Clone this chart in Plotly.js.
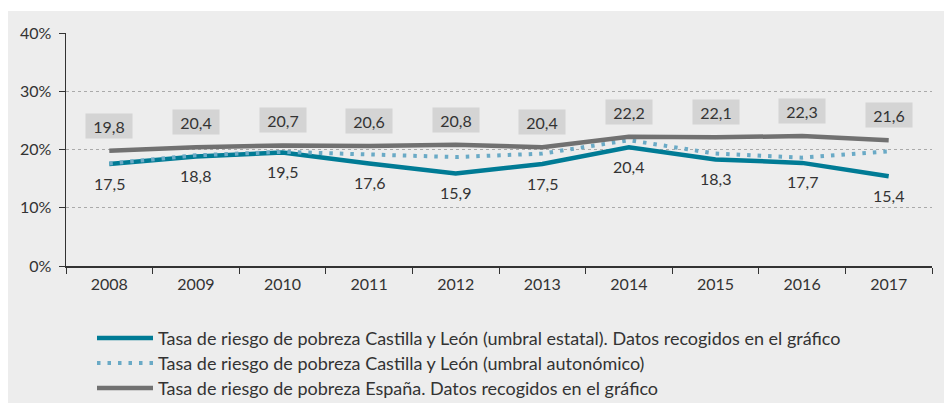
<!DOCTYPE html>
<html><head><meta charset="utf-8">
<script src="https://cdn.plot.ly/plotly-3.0.1.min.js"></script>
<style>html,body{margin:0;padding:0;background:#fff;}#chart{position:absolute;left:8px;top:11px;width:936px;height:392px;}#err{position:absolute;left:0;top:0;color:red;font:12px sans-serif;z-index:10}</style>
</head><body><div id="chart"></div><div id="err"></div>
<script>
window.onerror = function(m){document.getElementById('err').textContent += m + ' | ';};
const years = ['2008','2009','2010','2011','2012','2013','2014','2015','2016','2017'];
const cylEstatal = [17.5,18.8,19.5,17.6,15.9,17.5,20.4,18.3,17.7,15.4];
const cylAutonomico = [17.6,19.0,19.6,19.2,18.7,19.3,21.6,19.3,18.6,19.7];
const espana = [19.8,20.4,20.7,20.6,20.8,20.4,22.2,22.1,22.3,21.6];
const yTicks = [0,10,20,30,40];
const yTickText = ['0%','10%','20%','30%','40%'];
const names = [
  'Tasa de riesgo de pobreza Castilla y León (umbral estatal). Datos recogidos en el gráfico',
  'Tasa de riesgo de pobreza Castilla y León (umbral autonómico)',
  'Tasa de riesgo de pobreza España. Datos recogidos en el gráfico'
];
const colors = ['#007b95', '#6aaac6', '#717171'];
const dashes = ['solid', '3.5px,7px', 'solid'];
const widths = [4.5, 4, 4.5];
const fmt = v => v.toFixed(1).replace('.', ',');
const FONT = 'Lato';

try {
const series = [cylEstatal, cylAutonomico, espana];
const traces = series.map((s, k) => ({
  x: years, y: s, name: names[k], mode: 'lines', type: 'scatter',
  line: {color: colors[k], width: widths[k], dash: dashes[k]}, hoverinfo: 'skip', showlegend: false
}));

const annotations = [];
years.forEach((yr, i) => {
  annotations.push({xref: 'x', yref: 'y', x: i, y: espana[i], text: fmt(espana[i]), showarrow: false, yshift: 25,
    bgcolor: '#d4d4d4', width: 40, height: 18, borderpad: 3,
    font: {family: FONT, size: 16, color: '#333'}});
  annotations.push({xref: 'x', yref: 'y', x: i, y: cylEstatal[i], text: fmt(cylEstatal[i]), showarrow: false, yshift: -19,
    font: {family: FONT, size: 16, color: '#333'}});
});

// custom legend (longer line samples, as in the reference)
const shapes = [];
const plotW = 866, plotH = 233;
const px = v => (v - 66) / plotW;      // page x -> paper x
const py = v => (266 - v) / plotH;     // page y -> paper y
const rowsY = [338, 363, 388];
names.forEach((n, k) => {
  shapes.push({type: 'line', xref: 'paper', yref: 'paper', x0: px(97), x1: px(153), y0: py(rowsY[k]), y1: py(rowsY[k]),
    line: {color: colors[k], width: widths[k], dash: dashes[k]}});
  annotations.push({xref: 'paper', yref: 'paper', x: px(156), y: py(rowsY[k]), xanchor: 'left', yanchor: 'middle',
    text: n, showarrow: false, font: {family: FONT, size: 18, color: '#333'}});
});

const layout = {
  width: 936, height: 392,
  margin: {l: 58, r: 12, t: 22, b: 137},
  paper_bgcolor: '#ededed', plot_bgcolor: '#ededed',
  font: {family: FONT, color: '#333'},
  showlegend: false,
  xaxis: {type: 'category', range: [-0.5, 9.5], tickson: 'boundaries', ticks: 'outside', ticklen: 6,
    tickcolor: '#333', showline: true, linecolor: '#333', linewidth: 1.5, showgrid: false,
    ticklabelstandoff: 3,
    tickfont: {family: FONT, size: 16, color: '#333'}, fixedrange: true},
  yaxis: {range: [0, 40], tickvals: yTicks, ticktext: yTickText, ticks: 'outside', ticklen: 6,
    tickcolor: '#333', showline: true, linecolor: '#333', linewidth: 1.5,
    ticklabelstandoff: 4,
    showgrid: true, gridcolor: '#aaaaaa', griddash: 'dot', gridwidth: 1, zeroline: false,
    tickfont: {family: FONT, size: 16, color: '#333'}, fixedrange: true},
  annotations: annotations,
  shapes: shapes
};
Plotly.newPlot('chart', traces, layout, {displayModeBar: false, staticPlot: true})
  .catch(e => { document.getElementById('err').textContent += 'P:' + e; });
} catch (e) { document.getElementById('err').textContent += 'E:' + e; }
</script></body></html>
